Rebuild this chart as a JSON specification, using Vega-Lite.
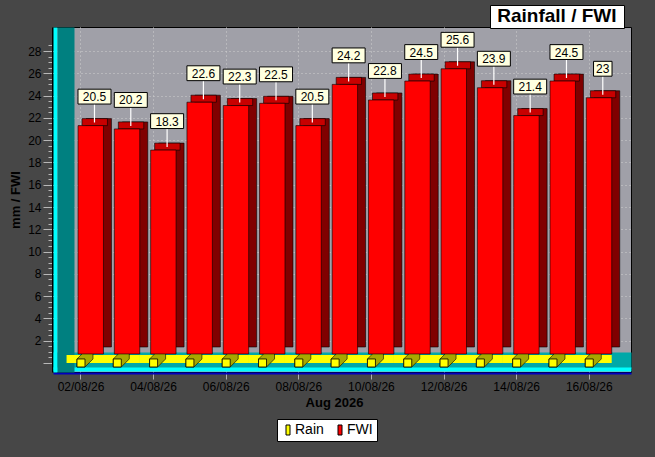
{
  "$schema": "https://vega.github.io/schema/vega-lite/v6.json",
  "width": 578,
  "height": 345,
  "autosize": {"type": "none"},
  "padding": {"left": 53, "top": 27, "right": 24, "bottom": 85},
  "background": "#474747",
  "config": {
    "view": {"fill": "#a0a0a8", "stroke": "#000000", "strokeWidth": 1},
    "font": "Liberation Sans"
  },
  "data": {
    "values": [
      {"date": "02/08/26", "rain": 0, "fwi": 20.5},
      {"date": "03/08/26", "rain": 0, "fwi": 20.2},
      {"date": "04/08/26", "rain": 0, "fwi": 18.3},
      {"date": "05/08/26", "rain": 0, "fwi": 22.6},
      {"date": "06/08/26", "rain": 0, "fwi": 22.3},
      {"date": "07/08/26", "rain": 0, "fwi": 22.5},
      {"date": "08/08/26", "rain": 0, "fwi": 20.5},
      {"date": "09/08/26", "rain": 0, "fwi": 24.2},
      {"date": "10/08/26", "rain": 0, "fwi": 22.8},
      {"date": "11/08/26", "rain": 0, "fwi": 24.5},
      {"date": "12/08/26", "rain": 0, "fwi": 25.6},
      {"date": "13/08/26", "rain": 0, "fwi": 23.9},
      {"date": "14/08/26", "rain": 0, "fwi": 21.4},
      {"date": "15/08/26", "rain": 0, "fwi": 24.5},
      {"date": "16/08/26", "rain": 0, "fwi": 23}
    ]
  },
  "resolve": {"axis": {"x": "independent", "y": "independent"}},
  "layer": [
    {
      "mark": {"type": "bar", "fill": "#ffff00", "stroke": null, "width": {"band": 1.45}, "yOffset": -8, "y2Offset": 0, "xOffset": 4, "x2Offset": 4},
      "encoding": {
        "x": {"field": "date", "type": "ordinal", "sort": null,
              "scale": {"paddingInner": 0.3, "paddingOuter": 0.61, "align": 0.345},
              "axis": {"orient": "bottom", "offset": -12, "domain": true, "domainColor": "#00a8a8", "domainWidth": 16, "ticks": false, "labels": false, "grid": false, "title": null}},
        "y": {"field": "rain", "type": "quantitative", "scale": {"domain": [-0.81, 30.16], "nice": false, "zero": false}, "axis": null},
        "y2": {"field": "rain"}
      }
    },
    {
      "mark": {"type": "point", "shape": "M-1,1L-1,-1L1,-3L3,-3L3,-1L1,1Z", "size": 64, "filled": true, "opacity": 1, "fill": "#a8a800", "stroke": "#000000", "strokeWidth": 0.6},
      "encoding": {
        "x": {"field": "date", "type": "ordinal", "sort": null,
              "axis": {"orient": "bottom", "offset": -3, "domain": true, "domainColor": "#00ffff", "domainWidth": 4, "ticks": false, "labels": false, "grid": false, "title": null}},
        "y": {"field": "rain", "type": "quantitative",
              "axis": {"orient": "left", "offset": -2, "domain": true, "domainColor": "#00ffff", "domainWidth": 4, "ticks": false, "labels": false, "grid": false, "title": null}}
      }
    },
    {
      "mark": {"type": "point", "shape": "square", "size": 64, "filled": true, "opacity": 1, "stroke": "#000000", "strokeWidth": 0.8},
      "encoding": {
        "x": {"field": "date", "type": "ordinal", "sort": null, "axis": null},
        "y": {"field": "rain", "type": "quantitative", "axis": null},
        "fill": {"datum": "Rain", "scale": {"domain": ["Rain", "FWI"], "range": ["#ffff00", "#ff0000"]}}
      }
    },
    {
      "mark": {"type": "bar", "fill": "#800000", "stroke": "#000000", "strokeWidth": 0.6, "xOffset": 17.75, "x2Offset": 17.75, "yOffset": -16, "y2Offset": -16},
      "encoding": {
        "x": {"field": "date", "type": "ordinal", "sort": null, "axis": null},
        "y": {"field": "fwi", "type": "quantitative",
              "axis": {"orient": "left", "offset": -12.5, "domain": true, "domainColor": "#008080", "domainWidth": 17, "ticks": false, "labels": false, "grid": false, "title": null}},
        "y2": {"datum": 0}
      }
    },
    {
      "mark": {"type": "bar", "fill": "#c80000", "stroke": "#000000", "strokeWidth": 0.6, "xOffset": 13.75, "x2Offset": 13.75, "yOffset": -16, "y2Offset": -9},
      "encoding": {
        "x": {"field": "date", "type": "ordinal", "sort": null, "axis": null},
        "y": {"field": "fwi", "type": "quantitative", "axis": null},
        "y2": {"field": "fwi"}
      }
    },
    {
      "mark": {"type": "bar", "stroke": "#000000", "strokeWidth": 0.6, "xOffset": 9.75, "x2Offset": 9.75, "yOffset": -9, "y2Offset": -9},
      "encoding": {
        "x": {"field": "date", "type": "ordinal", "sort": null,
              "axis": {"orient": "bottom", "offset": 1,
                       "values": ["02/08/26", "04/08/26", "06/08/26", "08/08/26", "10/08/26", "12/08/26", "14/08/26", "16/08/26"],
                       "domainColor": "#0000c0", "domainWidth": 2, "tickColor": "#b0b0b0", "tickSize": 6,
                       "labelFont": "Liberation Sans", "labelFontSize": 12, "labelColor": "#000000", "labelPadding": 2, "labelAngle": 0,
                       "title": "Aug 2026", "titleFont": "Liberation Sans", "titleFontSize": 13, "titleFontWeight": "bold", "titleColor": "#000000", "titleX": 281, "titlePadding": 4,
                       "grid": true, "gridColor": "#d0d0d0", "gridDash": [1, 3]}},
        "y": {"field": "fwi", "type": "quantitative",
              "axis": {"orient": "left", "offset": 1,
                       "values": [0, 0.5, 1, 1.5, 2, 2.5, 3, 3.5, 4, 4.5, 5, 5.5, 6, 6.5, 7, 7.5, 8, 8.5, 9, 9.5, 10, 10.5, 11, 11.5, 12, 12.5, 13, 13.5, 14, 14.5, 15, 15.5, 16, 16.5, 17, 17.5, 18, 18.5, 19, 19.5, 20, 20.5, 21, 21.5, 22, 22.5, 23, 23.5, 24, 24.5, 25, 25.5, 26, 26.5, 27, 27.5, 28, 28.5],
                       "labelExpr": "datum.value % 2 === 0 && datum.value > 0 ? '' + datum.value : ''",
                       "tickSize": {"condition": {"test": "datum.value % 2 === 0", "value": 9}, "value": 4},
                       "tickColor": "#b8b8b8", "domainColor": "#000000",
                       "labelFont": "Liberation Sans", "labelFontSize": 12, "labelColor": "#000000", "labelPadding": 2,
                       "title": "mm / FWI", "titleFont": "Liberation Sans", "titleFontSize": 13, "titleFontWeight": "bold", "titleColor": "#000000", "titlePadding": 5,
                       "grid": true, "gridColor": "#d0d0d0", "gridDash": [1, 3],
                       "gridOpacity": {"condition": {"test": "datum.value % 2 === 0 && datum.value > 0", "value": 1}, "value": 0}}},
        "y2": {"datum": 0},
        "fill": {"datum": "FWI",
                 "legend": {"orient": "none", "legendX": 224, "legendY": 392, "direction": "horizontal", "title": null,
                            "fillColor": "#ffffff", "strokeColor": "#000000", "padding": 4, "symbolOffset": 0,
                            "symbolType": "M-0.4,-1H0.4V1H-0.4Z", "symbolSize": 100, "symbolStrokeColor": "#000000", "symbolStrokeWidth": 1,
                            "labelFont": "Liberation Sans", "labelFontSize": 14, "labelColor": "#000000", "columnPadding": 9, "labelOffset": 0}}
      }
    },
    {
      "mark": {"type": "rule", "stroke": "#ffffff", "strokeWidth": 1.2, "xOffset": 13.5, "yOffset": -31, "y2Offset": -12},
      "encoding": {
        "x": {"field": "date", "type": "ordinal", "sort": null, "axis": null},
        "y": {"field": "fwi", "type": "quantitative", "axis": null},
        "y2": {"field": "fwi"},
        "strokeDash": {"datum": "t", "scale": {"domain": ["t"], "range": [[1, 0]]},
                       "legend": {"title": "\u200b Rainfall / FWI \u200b", "values": [], "orient": "none", "legendX": 437, "legendY": -22,
                                  "fillColor": "#ffffff", "strokeColor": "#000000", "padding": 2,
                                  "titleFont": "Liberation Sans", "titleFontSize": 19, "titleFontWeight": "bold", "titleColor": "#000000", "titlePadding": 0}}
      }
    },
    {
      "mark": {"type": "point", "size": 1089, "filled": true, "opacity": 1, "fill": "#ffffe0", "stroke": "#000000", "strokeWidth": 1, "xOffset": 13.5, "yOffset": -38},
      "encoding": {
        "x": {"field": "date", "type": "ordinal", "sort": null, "axis": null},
        "y": {"field": "fwi", "type": "quantitative", "axis": null},
        "shape": {"condition": {"test": "datum.fwi % 1 === 0", "value": "M-0.56,-0.45H0.56V0.45H-0.56Z"}, "value": "M-1,-0.45H1V0.45H-1Z"}
      }
    },
    {
      "mark": {"type": "text", "font": "Liberation Sans", "fontSize": 12, "fill": "#000000", "align": "center", "baseline": "middle", "xOffset": 13.5, "yOffset": -37.5},
      "encoding": {
        "x": {"field": "date", "type": "ordinal", "sort": null, "axis": null},
        "y": {"field": "fwi", "type": "quantitative", "axis": null},
        "text": {"field": "fwi", "type": "nominal"}
      }
    }
  ]
}
